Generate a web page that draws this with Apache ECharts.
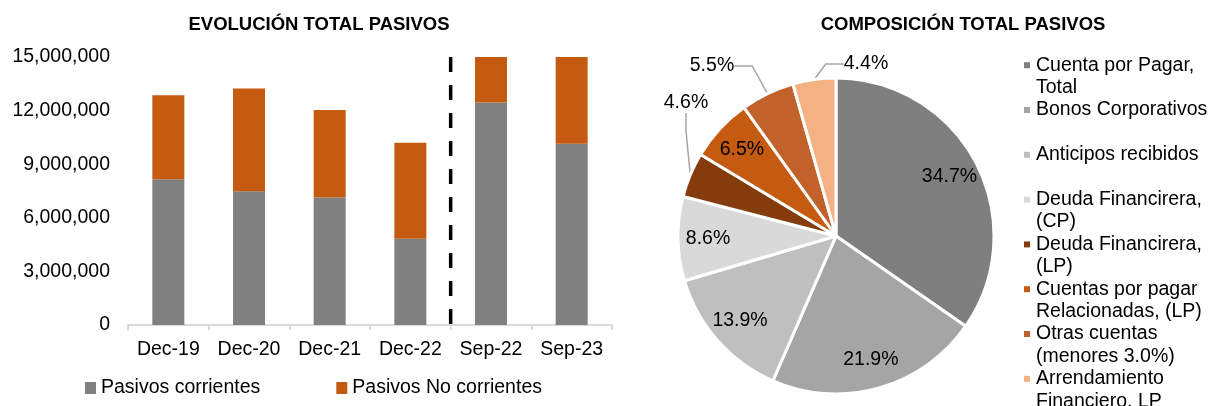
<!DOCTYPE html>
<html lang="es">
<head>
	<meta charset="UTF-8">
	<title>Pasivos</title>
	<style>
		body { margin: 0; background: #fff; }
	</style>
</head>
<body>
	<div id="main" style="width: 1212px;height:406px;"></div>

<script src="https://cdn.jsdelivr.net/npm/echarts@6/dist/echarts.min.js"></script>
<script>
	// datos de barras
	var periodos = ['Dec-19', 'Dec-20', 'Dec-21', 'Dec-22', 'Sep-22', 'Sep-23'];
	var pasivosCorrientes = [8155000, 7480000, 7130000, 4830000, 12460000, 10150000];
	var pasivosNoCorrientes = [4705000, 5750000, 4900000, 5370000, 5300000, 6000000];
	var yTicks = [0, 3000000, 6000000, 9000000, 12000000, 15000000];
	var corteIndex = 4; // linea punteada antes de Sep-22

	// datos de torta
	var pieNames = [
		'Cuenta por Pagar,\nTotal',
		'Bonos Corporativos',
		'Anticipos recibidos',
		'Deuda Financirera,\n(CP)',
		'Deuda Financirera,\n(LP)',
		'Cuentas por pagar\nRelacionadas, (LP)',
		'Otras cuentas\n(menores 3.0%)',
		'Arrendamiento\nFinanciero. LP'
	];
	var pieValues = [34.7, 21.9, 13.9, 8.6, 4.6, 6.5, 5.5, 4.4];
	var pieColors = ['#7F7F7F', '#A5A5A5', '#BFBFBF', '#D9D9D9', '#843C0C', '#C55A11', '#C0622A', '#F4B183'];

	var FONT = 'Liberation Sans, Arial, sans-serif';
	var CX = 836, CY = 236;
	// desplazamiento de las etiquetas exteriores respecto al centro de la torta
	var outsideOffset = { 4: [-150, -133], 6: [-124, -170], 7: [30, -172] };

	var myChart = echarts.init(document.getElementById('main'));

	var rich = {
		t: { fontSize: 19.5, lineHeight: 22.4, color: '#000', fontFamily: FONT },
		g: { width: 6, height: 22.4, lineHeight: 22.4 },
		s: { width: 12, height: 22.4, lineHeight: 22.4 }
	};
	pieColors.forEach(function (c, i) {
		rich['m' + i] = { width: 6, height: 6, backgroundColor: c };
	});

	var pieData = pieNames.map(function (n, i) {
		var fuera = pieValues[i] < 6;
		return {
			name: n,
			value: pieValues[i],
			label: { show: fuera },
			labelLine: { show: fuera }
		};
	});
	var pieInner = pieNames.map(function (n, i) {
		return { name: n, value: pieValues[i], label: { show: pieValues[i] >= 6 } };
	});

	var option = {
		animation: false,
		textStyle: { fontFamily: FONT },
		title: [
			{ text: 'EVOLUCIÓN TOTAL PASIVOS', left: 314, top: 10, textAlign: 'center',
				textStyle: { fontSize: 18.5, fontWeight: 'bold', color: '#000', fontFamily: FONT } },
			{ text: 'COMPOSICIÓN TOTAL PASIVOS', left: 958, top: 10, textAlign: 'center',
				textStyle: { fontSize: 18.5, fontWeight: 'bold', color: '#000', fontFamily: FONT } }
		],
		legend: [
			{
				data: ['Pasivos corrientes', 'Pasivos No corrientes'],
				left: 80, top: 373,
				itemWidth: 11, itemHeight: 12, itemGap: 76,
				icon: 'rect',
				textStyle: { fontSize: 19.5, color: '#000', fontFamily: FONT }
			},
			{
				data: pieNames,
				orient: 'vertical',
				left: 1014, top: 49, height: 400,
				itemGap: 0, itemWidth: 0, itemHeight: 22,
				icon: 'none',
				formatter: function (name) {
					var i = pieNames.indexOf(name);
					var lines = name.split('\n');
					var out = '{m' + i + '|}{g|}{t|' + lines[0] + '}\n';
					out += lines[1] ? '{s|}{t|' + lines[1] + '}' : '{s|}';
					return out;
				},
				textStyle: { rich: rich }
			}
		],
		grid: { left: 128, right: 600, top: 57, bottom: 81 },
		xAxis: [
			{
				type: 'category',
				data: periodos,
				axisLine: { lineStyle: { color: '#D9D9D9', width: 2 } },
				axisTick: { show: true, length: 5, lineStyle: { color: '#D9D9D9', width: 2 } },
				axisLabel: { fontSize: 19.5, color: '#000', margin: 15, interval: 0 }
			},
			{
				type: 'value', min: 0, max: periodos.length, show: false
			}
		],
		yAxis: {
			type: 'value',
			min: yTicks[0],
			max: yTicks[yTicks.length - 1],
			interval: yTicks[1] - yTicks[0],
			axisLine: { show: false },
			axisTick: { show: false },
			splitLine: { show: false },
			axisLabel: {
				fontSize: 19.5, color: '#000', margin: 18,
				formatter: function (v) { return v.toLocaleString('en-US'); }
			}
		},
		series: [
			{
				name: 'Pasivos corrientes',
				type: 'bar',
				stack: 'total',
				barWidth: 32,
				data: pasivosCorrientes,
				itemStyle: { color: '#808080' }
			},
			{
				name: 'Pasivos No corrientes',
				type: 'bar',
				stack: 'total',
				barWidth: 32,
				data: pasivosNoCorrientes,
				itemStyle: { color: '#C55A11' }
			},
			{
				name: 'corte',
				type: 'line',
				xAxisIndex: 1,
				symbol: 'none',
				silent: true,
				data: [[corteIndex, yTicks[yTicks.length - 1]], [corteIndex, 0]],
				lineStyle: { color: '#000', width: 3.5, type: [15, 13] }
			},
			{
				name: 'composicion',
				type: 'pie',
				center: [CX, CY],
				radius: [0, 158],
				startAngle: 90,
				clockwise: true,
				color: pieColors,
				data: pieData,
				itemStyle: { borderColor: '#fff', borderWidth: 3 },
				label: {
					position: 'outside',
					formatter: '{c}%',
					fontSize: 19.5, color: '#000', fontFamily: FONT
				},
				labelLine: {
					length: 12, length2: 18,
					lineStyle: { color: '#A6A6A6', width: 1.5 }
				},
				labelLayout: function (params) {
					var off = outsideOffset[params.dataIndex];
					if (!off) return {};
					return { x: CX + off[0], y: CY + off[1], align: 'center', verticalAlign: 'middle' };
				},
				emphasis: { disabled: true }
			},
			{
				name: 'etiquetas',
				type: 'pie',
				center: [CX, CY],
				radius: [92, 158],
				startAngle: 90,
				clockwise: true,
				silent: true,
				data: pieInner,
				itemStyle: { color: 'rgba(0,0,0,0)' },
				label: {
					position: 'inside',
					formatter: '{c}%',
					fontSize: 19.5, color: '#000', fontFamily: FONT
				},
				labelLine: { show: false },
				emphasis: { disabled: true }
			}
		]
	};
	myChart.setOption(option);
</script>
</body>
</html>
